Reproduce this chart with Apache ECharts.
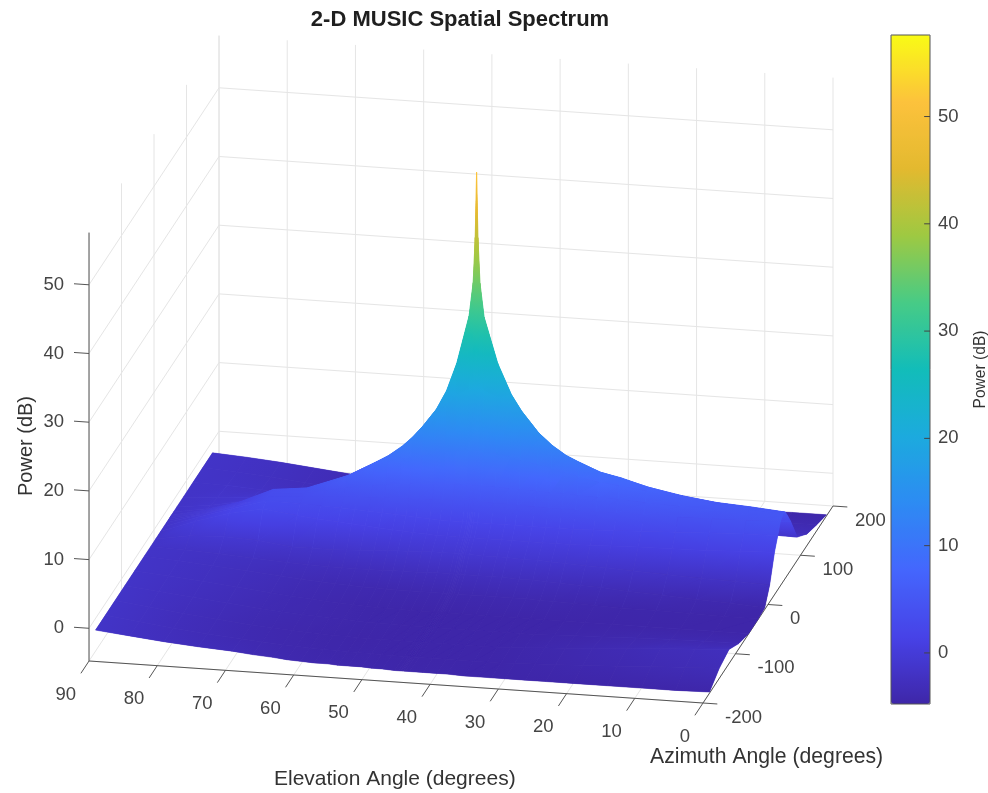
<!DOCTYPE html>
<html><head><meta charset="utf-8">
<style>html,body{margin:0;padding:0;background:#fff}#c{width:988px;height:793px}</style>
<script src="https://cdn.jsdelivr.net/npm/echarts@6/dist/echarts.min.js"></script>
</head><body><div id="c"></div>
<script>
const elevationTicks = [90,80,70,60,50,40,30,20,10,0];
const azimuthTicks = [-200,-100,0,100,200];
const powerTicks = [0,10,20,30,40,50];
const elevation = [0,5,10,15,20,24,27,30,32,34,36, 38.5,40,42, 44,44.6,44.9,45.1,45.3,45.6,46.2, 48,49.5,51,53,54.5,56,58,60,62,64,67,70,75,80,85,90];
const azimuth = [-180,-150,-120,-90,-60,-30,-10,5,20,30,38,43,47,49,50,51,53,60,70,90,120,150,180];
const power = [
[-4.6,-4.7,-4.7,-4.7,-4.7,-4.7,-4.7,-4.7,-4.7,-4.7,-4.7, -4.6,-4.6,-4.6, -4.6,-4.6,-4.6,-4.6,-4.6,-4.6,-4.6, -4.5,-4.5,-4.4,-4.4,-4.4,-4.3,-4.3,-4.2,-4.1,-3.9,-3.7,-3.4,-3.1,-2.7,-2.2,-1.7],
[-3.3,-3.5,-3.7,-4.0,-4.2,-4.4,-4.5,-4.6,-4.7,-4.7,-4.7, -4.7,-4.7,-4.7, -4.7,-4.7,-4.7,-4.7,-4.7,-4.7,-4.7, -4.7,-4.7,-4.6,-4.6,-4.6,-4.5,-4.5,-4.4,-4.3,-4.2,-4.0,-3.8,-3.4,-2.9,-2.3,-1.7],
[-2.7,-3.0,-3.2,-3.6,-3.9,-4.2,-4.3,-4.5,-4.6,-4.7,-4.7, -4.7,-4.7,-4.7, -4.7,-4.7,-4.7,-4.7,-4.7,-4.7,-4.7, -4.7,-4.7,-4.7,-4.7,-4.7,-4.6,-4.6,-4.5,-4.4,-4.3,-4.1,-3.9,-3.4,-2.9,-2.3,-1.7],
[-4.0,-4.0,-4.1,-4.2,-4.4,-4.5,-4.6,-4.7,-4.7,-4.7,-4.7, -4.7,-4.7,-4.7, -4.7,-4.7,-4.7,-4.7,-4.7,-4.7,-4.7, -4.7,-4.7,-4.6,-4.6,-4.6,-4.5,-4.4,-4.3,-4.2,-4.1,-3.9,-3.7,-3.2,-2.7,-2.2,-1.7],
[-4.7,-4.7,-4.7,-4.7,-4.7,-4.7,-4.7,-4.7,-4.7,-4.7,-4.7, -4.7,-4.7,-4.7, -4.7,-4.7,-4.7,-4.7,-4.7,-4.7,-4.7, -4.7,-4.7,-4.6,-4.6,-4.6,-4.5,-4.4,-4.3,-4.2,-4.0,-3.8,-3.5,-3.0,-2.5,-2.1,-1.7],
[-4.7,-4.7,-4.6,-4.5,-4.5,-4.4,-4.3,-4.2,-4.2,-4.1,-4.1, -4.1,-4.1,-4.1, -4.1,-4.1,-4.1,-4.1,-4.1,-4.1,-4.1, -4.1,-4.1,-4.1,-4.1,-4.1,-4.0,-4.0,-3.9,-3.8,-3.7,-3.5,-3.2,-2.8,-2.4,-2.0,-1.7],
[-4.5,-4.2,-4.0,-3.7,-3.5,-3.2,-3.1,-3.0,-2.9,-2.8,-2.8, -2.7,-2.7,-2.7, -2.7,-2.7,-2.7,-2.7,-2.7,-2.7,-2.7, -2.7,-2.7,-2.8,-2.8,-2.8,-2.9,-2.9,-2.9,-2.9,-2.9,-2.8,-2.7,-2.4,-2.1,-1.9,-1.7],
[-2.3,-2.1,-2.0,-1.8,-1.6,-1.4,-1.3,-1.2,-1.1,-1.0,-1.0, -0.9,-0.9,-0.9, -0.8,-0.8,-0.8,-0.8,-0.8,-0.8,-0.8, -0.8,-0.8,-0.9,-1.0,-1.0,-1.1,-1.2,-1.3,-1.4,-1.5,-1.5,-1.5,-0.9,-0.7,-0.9,-1.7],
[1.4,1.2,1.0,0.9,0.8,0.7,0.6,0.5,0.5,0.5,0.5, 0.5,0.5,0.5, 0.5,0.5,0.5,0.5,0.5,0.5,0.5, 0.5,0.5,0.6,0.7,0.8,0.9,1.0,1.2,1.3,1.5,1.7,2.0,2.6,1.6,0.1,-1.7],
[3.1,3.0,2.8,2.6,2.4,2.2,2.1,2.0,2.0,2.0,2.0, 2.0,2.0,2.0, 2.0,2.0,2.0,2.0,2.0,2.0,2.0, 2.0,2.0,2.1,2.2,2.3,2.4,2.5,2.6,2.7,2.8,2.9,3.0,3.1,1.6,0.0,-1.7],
[4.6,4.4,4.3,4.2,4.2,4.2,4.2,4.2,4.2,4.2,4.3, 4.3,4.4,4.4, 4.5,4.5,4.5,4.5,4.5,4.5,4.5, 4.4,4.4,4.3,4.3,4.2,4.2,4.1,4.0,4.0,3.9,3.7,3.4,3.1,1.3,-0.2,-1.7],
[4.9,5.0,5.2,5.4,5.6,5.8,5.9,6.0,6.1,6.1,6.2, 6.3,6.3,6.4, 6.4,6.4,6.4,6.4,6.4,6.4,6.4, 6.3,6.3,6.2,6.1,6.0,5.9,5.7,5.4,5.1,4.8,4.2,3.6,3.2,1.1,-0.4,-1.7],
[5.0,5.3,5.7,6.2,7.0,7.5,7.8,8.4,8.9,9.3,9.7, 10.2,10.6,10.9, 11.0,11.1,11.1,11.1,11.1,11.1,11.0, 10.9,10.6,10.3,9.9,9.6,9.2,8.7,8.0,7.0,5.9,4.7,3.7,3.2,1.0,-0.5,-1.7],
[5.0,5.4,5.7,6.4,7.3,8.4,9.0,10.2,10.9,12.1,13.2, 15.3,17.0,19.0, 19.9,20.0,20.0,20.0,20.0,20.0,19.9, 19.0,17.3,15.6,13.0,11.9,10.7,9.3,8.2,7.1,6.0,4.9,3.8,3.2,1.0,-0.5,-1.7],
[5.0,5.4,5.7,6.4,7.4,8.4,9.1,10.3,11.2,12.5,14.2, 17.2,19.5,23.9, 30.5,35.4,42.0,51.5,42.0,35.4,30.5, 23.5,19.4,16.6,14.0,12.3,10.9,9.4,8.2,7.1,6.0,4.9,3.8,3.2,1.0,-0.5,-1.7],
[5.0,5.4,5.7,6.4,7.3,8.4,9.0,10.2,10.9,12.1,13.2, 15.3,17.0,19.0, 19.9,20.0,20.0,20.0,20.0,20.0,19.9, 19.0,17.3,15.6,13.0,11.9,10.7,9.3,8.2,7.1,6.0,4.9,3.8,3.2,1.0,-0.5,-1.7],
[4.9,5.3,5.6,6.2,6.9,7.5,7.8,8.4,8.9,9.3,9.7, 10.2,10.6,10.9, 11.0,11.1,11.1,11.1,11.1,11.1,11.0, 10.9,10.6,10.3,9.9,9.6,9.2,8.7,8.0,7.0,5.9,4.7,3.6,3.1,0.9,-0.6,-1.7],
[3.9,3.9,4.0,4.2,4.3,4.4,4.5,4.5,4.6,4.6,4.6, 4.6,4.6,4.6, 4.6,4.6,4.6,4.6,4.6,4.6,4.6, 4.5,4.5,4.4,4.3,4.2,4.2,4.0,3.8,3.6,3.3,2.9,2.6,2.2,0.4,-0.9,-1.7],
[2.3,2.2,2.2,2.1,2.1,2.0,2.0,2.0,2.0,2.0,2.0, 2.0,2.0,2.0, 2.0,2.0,2.0,2.0,2.0,2.0,2.0, 2.0,2.0,2.0,2.0,1.9,1.9,1.8,1.7,1.5,1.3,1.0,0.9,0.5,-0.2,-1.1,-1.7],
[-1.4,-1.3,-1.2,-1.1,-1.0,-0.9,-0.9,-0.9,-0.9,-0.9,-0.9, -0.9,-0.9,-0.9, -0.9,-0.9,-0.9,-0.9,-0.9,-0.9,-0.9, -0.9,-0.9,-0.9,-1.0,-1.0,-1.0,-1.0,-1.1,-1.2,-1.3,-1.4,-1.6,-1.3,-1.1,-1.4,-1.7],
[-3.1,-3.0,-3.0,-3.0,-3.0,-3.0,-3.0,-3.0,-3.0,-3.0,-3.0, -3.0,-3.0,-3.0, -3.0,-3.0,-3.0,-3.0,-3.0,-3.0,-3.0, -3.0,-3.0,-3.0,-3.0,-3.0,-3.0,-3.0,-3.0,-3.0,-3.0,-3.0,-2.9,-2.6,-2.1,-1.8,-1.7],
[-3.9,-3.9,-4.0,-4.1,-4.2,-4.3,-4.3,-4.3,-4.3,-4.3,-4.3, -4.3,-4.3,-4.3, -4.3,-4.3,-4.3,-4.3,-4.3,-4.3,-4.3, -4.3,-4.3,-4.3,-4.3,-4.3,-4.3,-4.2,-4.1,-4.0,-3.8,-3.6,-3.3,-2.9,-2.4,-2.0,-1.7],
[-4.6,-4.6,-4.7,-4.7,-4.7,-4.7,-4.7,-4.7,-4.7,-4.7,-4.7, -4.7,-4.7,-4.7, -4.7,-4.7,-4.7,-4.7,-4.7,-4.7,-4.7, -4.7,-4.7,-4.7,-4.7,-4.7,-4.7,-4.6,-4.4,-4.2,-4.0,-3.7,-3.4,-2.9,-2.4,-2.0,-1.7]
];
const parula = ['#3e26a8','#4742e7','#4466fd','#2d8bf3','#1caade','#12bdb9','#47cb86','#9ec942','#e3b92f','#fcc23c','#f9fb15'];
const powerMin = -4.76, powerMax = 57.6;
const FONT = '"Liberation Sans", Helvetica, Arial, sans-serif';

// orthographic view of the box: pixels per unit along each data axis
function project(el, az, z){
  const a = az + 200, h = z - powerMin;
  return [703 - 6.822*el + 0.325*a, 703 - 0.4667*el - 0.4925*a - 6.87*h];
}
const colorOf = z => echarts.color.lerp(Math.max(0,Math.min(1,(z-powerMin)/(powerMax-powerMin))), parula);

// surface cells painted back to front
const cells = [];
for (let i = azimuth.length-2; i >= 0; i--)
  for (let j = elevation.length-2; j >= 0; j--)
    cells.push([i, j, (power[i][j]+power[i][j+1]+power[i+1][j]+power[i+1][j+1])/4]);

function ramp(x0, y0, x1, y1, z0, z1){
  const n = Math.min(12, Math.max(1, Math.ceil((z1-z0)/3)));
  const stops = [];
  for (let s = 0; s <= n; s++) stops.push({offset:s/n, color:colorOf(z0+(z1-z0)*s/n)});
  return new echarts.graphic.LinearGradient(x0, y0, x1, y1, stops, true);
}
// fill running from the lowest corner of a facet to its highest
function cornerRamp(list){
  let lo = list[0], hi = list[0];
  list.forEach(c => { if (c.z < lo.z) lo = c; if (c.z > hi.z) hi = c; });
  if (hi.z-lo.z < 0.5 || Math.hypot(hi.p[0]-lo.p[0], hi.p[1]-lo.p[1]) < 1)
    return colorOf(list.reduce((s,c)=>s+c.z,0)/list.length);
  return ramp(lo.p[0], lo.p[1], hi.p[0], hi.p[1], lo.z, hi.z);
}
// one triangle shaded so its colour follows power across the facet
function facet(a, b, c){
  const z0 = Math.min(a.z,b.z,c.z), z1 = Math.max(a.z,b.z,c.z);
  const lo = a.z===z0 ? a : (b.z===z0 ? b : c);
  const det = (b.p[0]-a.p[0])*(c.p[1]-a.p[1])-(c.p[0]-a.p[0])*(b.p[1]-a.p[1]);
  let fill;
  if (Math.abs(det) > 0.05 && z1-z0 > 0.001) {
    const gx = ((b.z-a.z)*(c.p[1]-a.p[1])-(c.z-a.z)*(b.p[1]-a.p[1]))/det;
    const gy = ((c.z-a.z)*(b.p[0]-a.p[0])-(b.z-a.z)*(c.p[0]-a.p[0]))/det;
    const k = (z1-z0)/(gx*gx+gy*gy);
    fill = ramp(lo.p[0], lo.p[1], lo.p[0]+gx*k, lo.p[1]+gy*k, z0, z1);
  } else fill = cornerRamp([a,b,c]);
  return {type:'polygon', silent:true, shape:{points:[a.p,b.p,c.p]}, style:{fill}};
}
function surfaceItem(params, api){
  const i = api.value(0), j = api.value(1);
  const v = [[i,j],[i,j+1],[i+1,j+1],[i+1,j]].map(([a,e]) => {
    const z = power[a][e];
    return {z, p: api.coord(project(elevation[e], azimuth[a], z))};
  });
  const under = cornerRamp(v);
  return {type:'group', silent:true, children:[
    {type:'polygon', silent:true, shape:{points:v.map(c=>c.p)}, style:{fill:under, stroke:under, lineWidth:0.5, lineJoin:'round'}},
    facet(v[0],v[1],v[3]), facet(v[1],v[2],v[3])
  ]};
}

// grid lines and axis lines, as pairs of box positions
const GRID = '#e5e5e5', AXIS = '#555555';
const segments = [];
const seg = (a,b,color,w) => segments.push({a,b,color,w});
powerTicks.forEach(z => {
  seg([90,-200,z],[90,200,z],GRID,1);
  seg([90,200,z],[0,200,z],GRID,1);
});
elevationTicks.forEach(e => {
  seg([e,200,powerMin],[e,200,powerMax],GRID,1);
  seg([e,-200,powerMin],[e,200,powerMin],GRID,1);
});
azimuthTicks.forEach(a => {
  seg([90,a,powerMin],[90,a,powerMax],GRID,1);
  seg([90,a,powerMin],[0,a,powerMin],GRID,1);
});
seg([90,-200,powerMin],[0,-200,powerMin],AXIS,1);
seg([0,-200,powerMin],[0,200,powerMin],AXIS,1);
seg([90,-200,powerMin],[90,-200,powerMax],AXIS,1);
elevationTicks.forEach(e => seg([e,-200,powerMin],[e,-225,powerMin],AXIS,1));
azimuthTicks.forEach(a => seg([0,a,powerMin],[-2.1,a,powerMin],AXIS,1));
powerTicks.forEach(z => seg([90,-200,z],[92.2,-200,z],AXIS,1));

function segmentItem(params, api){
  const s = segments[api.value(0)];
  const p = api.coord(project(...s.a)), q = api.coord(project(...s.b));
  return {type:'line', shape:{x1:p[0],y1:p[1],x2:q[0],y2:q[1]}, silent:true,
    style:{stroke:s.color, lineWidth:s.w}};
}

// tick labels placed beside their ticks
const labels = [];
elevationTicks.forEach(e => labels.push({t:String(e), at:[e,-200,powerMin], dx:-13, dy:33.5, align:'right'}));
azimuthTicks.forEach(a => labels.push({t:String(a), at:[0,a,powerMin], dx:22, dy:14.5, align:'left'}));
powerTicks.forEach(z => labels.push({t:String(z), at:[90,-200,z], dx:-25, dy:0, align:'right'}));
function labelItem(params, api){
  const l = labels[api.value(0)];
  const p = api.coord(project(...l.at));
  return {type:'text', silent:true, style:{text:l.t, x:p[0]+l.dx, y:p[1]+l.dy, align:l.align, verticalAlign:'middle',
    fill:'#444444', font:'18.5px '+FONT}};
}
// short inward ticks on the colour bar
function colorbarTick(params, api){
  const z = api.value(0);
  const p = api.coord([1, z]), q = api.coord([0.85, z]);
  return {type:'line', silent:true, shape:{x1:p[0],y1:p[1],x2:q[0],y2:q[1]}, style:{stroke:'#444444', lineWidth:1}};
}

const chart = echarts.init(document.getElementById('c'), null, {renderer:'canvas'});
chart.setOption({
  animation:false,
  backgroundColor:'#ffffff',
  title:{text:'2-D MUSIC Spatial Spectrum', left:455, top:4, textAlign:'center',
    textStyle:{fontFamily:FONT, fontSize:22, fontWeight:'bold', color:'#1f1f1f'}},
  grid:[
    {left:0, top:0, width:988, height:793, show:false, outerBoundsMode:'none'},
    {left:891, top:35, width:39, height:669, show:true, borderColor:'#555555', borderWidth:1, backgroundColor:'transparent', z:5, outerBoundsMode:'none'}
  ],
  xAxis:[
    {type:'value', gridIndex:0, min:0, max:988, show:false},
    {type:'value', gridIndex:1, min:0, max:1, show:false}
  ],
  yAxis:[
    {type:'value', gridIndex:0, min:0, max:793, inverse:true, show:false},
    {type:'value', gridIndex:1, min:powerMin, max:powerMax, position:'right',
      name:'Power (dB)', nameLocation:'middle', nameRotate:90, nameGap:43,
      nameTextStyle:{fontFamily:FONT, fontSize:15.6, color:'#333333'},
      axisLine:{show:false}, splitLine:{show:false}, axisTick:{show:false},
      axisLabel:{show:true, customValues:powerTicks, margin:8, fontFamily:FONT, fontSize:18.5, color:'#444444', hideOverlap:false}}
  ],
  visualMap:{type:'continuous', min:powerMin, max:powerMax, dimension:2, seriesIndex:1,
    left:891, top:35, itemWidth:39, itemHeight:669, padding:0, calculable:false, hoverLink:false,
    text:null, showLabel:false, inRange:{color:parula}, textStyle:{fontSize:0}},
  graphic:[
    {type:'text', left:274, top:769, style:{text:'Elevation Angle (degrees)', fill:'#333333', font:'21px '+FONT}},
    {type:'text', left:650, top:747, style:{text:'Azimuth Angle (degrees)', fill:'#333333', font:'21.2px '+FONT}},
    {type:'text', left:16, top:396, rotation:Math.PI/2, style:{text:'Power (dB)', fill:'#333333', font:'20px '+FONT}}
  ],
  series:[
    {name:'frame', type:'custom', coordinateSystem:'cartesian2d', xAxisIndex:0, yAxisIndex:0, clip:false, silent:true, z:1,
      progressive:0, data:segments.map((s,i)=>[i]), renderItem:segmentItem, encode:{x:0,y:0}},
    {name:'surface', type:'custom', coordinateSystem:'cartesian2d', xAxisIndex:0, yAxisIndex:0, clip:false, silent:true, z:2,
      progressive:0, data:cells, renderItem:surfaceItem, encode:{x:0,y:1}},
    {name:'ticks', type:'custom', coordinateSystem:'cartesian2d', xAxisIndex:0, yAxisIndex:0, clip:false, silent:true, z:3,
      progressive:0, data:labels.map((l,i)=>[i]), renderItem:labelItem, encode:{x:0,y:0}},
    {name:'colorbarTicks', type:'custom', coordinateSystem:'cartesian2d', xAxisIndex:1, yAxisIndex:1, clip:false, silent:true, z:12,
      progressive:0, data:powerTicks.map(z=>[z]), renderItem:colorbarTick, encode:{y:0}}
  ]
});
</script></body></html>
